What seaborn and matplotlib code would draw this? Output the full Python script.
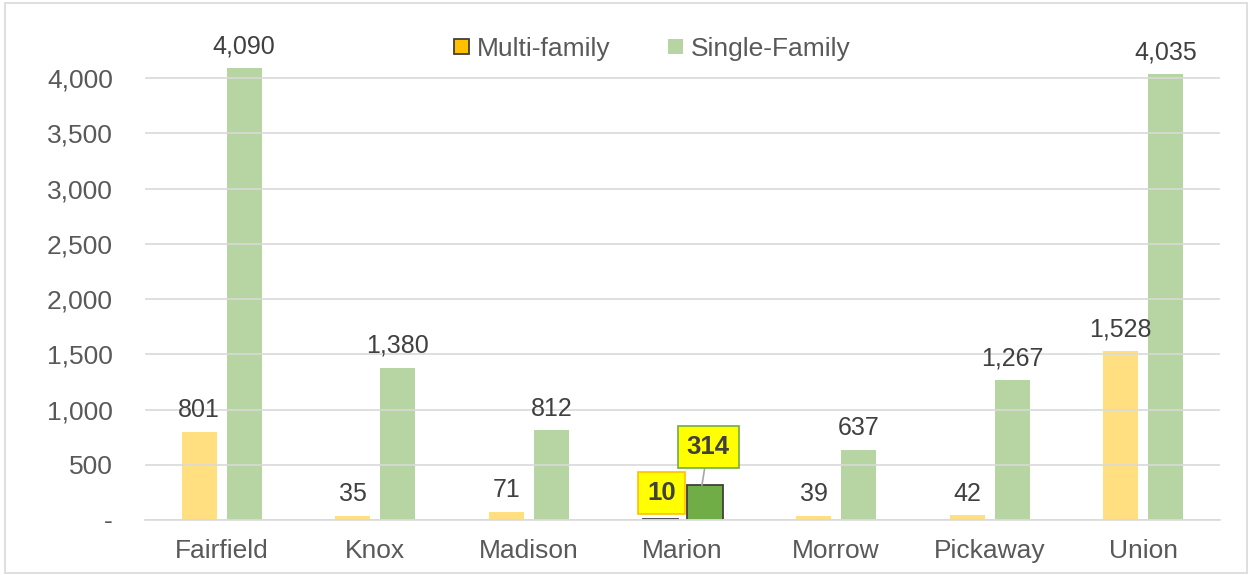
import pandas as pd
import numpy as np
import seaborn as sns
from matplotlib import pyplot as plt
from matplotlib.patches import Patch, Rectangle
from matplotlib.ticker import FuncFormatter

counties = ['Fairfield', 'Knox', 'Madison', 'Marion', 'Morrow', 'Pickaway', 'Union']
multi_family = [801, 35, 71, 10, 39, 42, 1528]
single_family = [4090, 1380, 812, 314, 637, 1267, 4035]
series = ['Multi-family', 'Single-Family']
highlight = 'Marion'

sns.set_style('white')
plt.rcParams['font.family'] = ['Liberation Sans', 'DejaVu Sans']

data = pd.DataFrame({
    'County': counties * 2,
    'Type': [series[0]] * len(counties) + [series[1]] * len(counties),
    'Units': multi_family + single_family,
})

fig = plt.figure(figsize=(12.52, 5.75), dpi=100)
ax = fig.add_axes([0.1158, 0.0957, 0.8587, 0.8643])
fig.patches.append(Rectangle((0.004, 0.003), 0.992, 0.992, transform=fig.transFigure,
                             fill=False, edgecolor='#D9D9D9', linewidth=1.2))

sns.barplot(data=data, x='County', y='Units', hue='Type', hue_order=series,
            palette=['#FFC000', '#70AD47'], saturation=1, width=0.585, gap=0.22,
            alpha=0.5, linewidth=0, ax=ax, legend=False)

hi = counties.index(highlight)
for cont in ax.containers:
    bar = cont.patches[hi]
    bar.set_alpha(1)
    bar.set_edgecolor('#404040')
    bar.set_linewidth(1.3)
    labels = [f'{v:,.0f}' if i != hi else '' for i, v in enumerate(cont.datavalues)]
    ax.bar_label(cont, labels=labels, padding=7, fontsize=18, color='#404040')

# highlighted labels for Marion
mbar = ax.containers[0].patches[hi]
sbar = ax.containers[1].patches[hi]
ax.annotate(f'{multi_family[hi]:,}', xy=(mbar.get_x() + mbar.get_width() / 2, multi_family[hi]),
            xytext=(mbar.get_x() + mbar.get_width() / 2 + 0.01, 245), ha='center', va='center',
            fontsize=18.5, fontweight='bold', color='#404040',
            bbox=dict(boxstyle='square,pad=0.35', fc='#FFFF00', ec='#FFC000', lw=1.2))
ax.annotate(f'{single_family[hi]:,}', xy=(sbar.get_x() + sbar.get_width() / 2 - 0.02, single_family[hi]),
            xytext=(sbar.get_x() + sbar.get_width() / 2 + 0.02, 660), ha='center', va='center',
            fontsize=18.5, fontweight='bold', color='#404040',
            bbox=dict(boxstyle='square,pad=0.35', fc='#FFFF00', ec='#70AD47', lw=1.2),
            arrowprops=dict(arrowstyle='-', color='#A6A6A6', lw=1.2, shrinkA=0, shrinkB=0))

ax.set_ylim(0, 4500)
ax.set_yticks(np.arange(0, 4001, 500))
ax.yaxis.set_major_formatter(FuncFormatter(lambda v, p: '-' if v == 0 else f'{v:,.0f}'))
ax.set_xlim(-0.5, len(counties) - 0.5)
ax.grid(axis='y', color='#D9D9D9', linewidth=1.2)
ax.set_axisbelow(False)
for s in ['left', 'right', 'top']:
    ax.spines[s].set_visible(False)
ax.spines['bottom'].set_color('#D9D9D9')
ax.spines['bottom'].set_linewidth(1.2)
ax.tick_params(axis='both', length=0, labelsize=19, colors='#595959', pad=14)
ax.tick_params(axis='y', pad=23)
ax.set_xlabel('')
ax.set_ylabel('')

handles = [Patch(facecolor='#FFC000', edgecolor='#404040', linewidth=1.3),
           Patch(facecolor='#70AD47', alpha=0.5, linewidth=0)]
ax.legend(handles, series, loc='upper center', bbox_to_anchor=(0.472, 1.02), ncol=2,
          frameon=False, fontsize=19, labelcolor='#595959', handlelength=0.55,
          handleheight=0.55, handletextpad=0.3, columnspacing=2.2)

plt.savefig('out.png', dpi=100)
